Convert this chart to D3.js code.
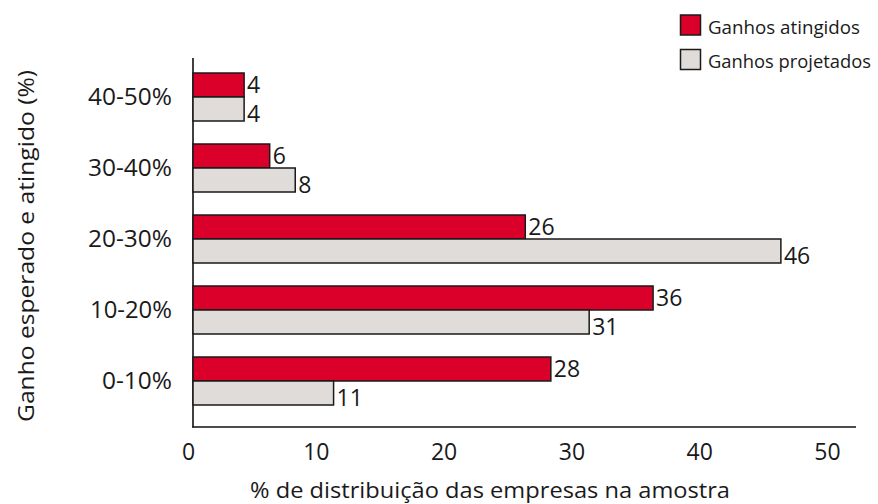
<!DOCTYPE html>
<html><head><meta charset="utf-8">
<script src="https://cdn.jsdelivr.net/npm/d3@7"></script>
<style>body{margin:0;background:#fff}svg{display:block}text{font-family:"Open Sans","Noto Sans",sans-serif;font-weight:400;fill:#1a1a1a}</style>
</head><body>
<script>
const categories = ["40-50%","30-40%","20-30%","10-20%","0-10%"];
const atingidos = [4,6,26,36,28];
const projetados = [4,8,46,31,11];
const xTicks = [0,10,20,30,40,50];
const seriesNames = ["Ganhos atingidos","Ganhos projetados"];
const colors = ["#db0029","#e0dcd9"];

const W=878,H=504;
const svg=d3.select("body").append("svg").attr("width",W).attr("height",H);
const x=d3.scaleLinear().domain([0,50]).range([193,832]);
const y=d3.scaleBand().domain(categories).range([61.5,416.5]).paddingInner(23/71).paddingOuter(11.5/71);
const bh=y.bandwidth()/2;

function fit(sel, perChar){
  sel.each(function(){
    const t=d3.select(this), s=t.text();
    const target=typeof perChar==="function"?perChar(s):perChar;
    if(target) t.attr("textLength",target).attr("lengthAdjust","spacingAndGlyphs");
  });
}

// axes lines
svg.append("line").attr("x1",193).attr("x2",193).attr("y1",58).attr("y2",427.5).attr("stroke","#111").attr("stroke-width",1.6);
svg.append("line").attr("x1",192.2).attr("x2",856).attr("y1",427).attr("y2",427).attr("stroke","#111").attr("stroke-width",1.6);

const xAxis=svg.append("g").attr("transform","translate(0,427)")
  .call(d3.axisBottom(x).tickValues(xTicks).tickSize(0).tickPadding(0).tickFormat(d3.format("d")));
xAxis.select(".domain").remove();
xAxis.selectAll("text").attr("dx",-5).attr("y",33).attr("dy",0).style("font-size","23px").attr("fill","#1a1a1a");

const yAxis=svg.append("g").attr("transform","translate(172,0)")
  .call(d3.axisLeft(y).tickSize(0).tickPadding(0));
yAxis.select(".domain").remove();
yAxis.selectAll("text").attr("x",0).attr("dy","0.36em").style("font-size","23px").attr("fill","#1a1a1a");
fit(yAxis.selectAll("text"), s=>s.length===5?70:(s[0]==="1"?82:84));

const data=categories.map((c,i)=>({c,vals:[atingidos[i],projetados[i]]}));
const g=svg.append("g");
data.forEach(d=>{
  d.vals.forEach((v,j)=>{
    const top=y(d.c)+j*bh;
    g.append("rect").attr("x",x(0)).attr("y",top).attr("width",x(v)-x(0)).attr("height",bh)
      .attr("fill",colors[j]).attr("stroke","#1a1a1a").attr("stroke-width",1.5);
    g.append("text").attr("x",x(v)+3).attr("y",top+(j===0?19.5:24.5)).text(v).style("font-size","23px");
  });
});

// legend
seriesNames.forEach((n,j)=>{
  const ly=15+j*34.5;
  svg.append("rect").attr("x",680.5).attr("y",ly).attr("width",20).attr("height",20).attr("fill",colors[j]).attr("stroke","#1a1a1a").attr("stroke-width",1.5);
  svg.append("text").attr("x",708).attr("y",ly+18.5).text(n).style("font-size","18px")
    .attr("textLength",j===0?152:163).attr("lengthAdjust","spacingAndGlyphs");
});

svg.append("text").attr("x",250).attr("y",498).style("font-size","22px").text("% de distribuição das empresas na amostra")
  .attr("textLength",480).attr("lengthAdjust","spacingAndGlyphs");
svg.append("text").attr("transform","translate(34,422) rotate(-90)").style("font-size","22px").text("Ganho esperado e atingido (%)")
  .attr("textLength",352).attr("lengthAdjust","spacingAndGlyphs");
</script>
</body></html>
